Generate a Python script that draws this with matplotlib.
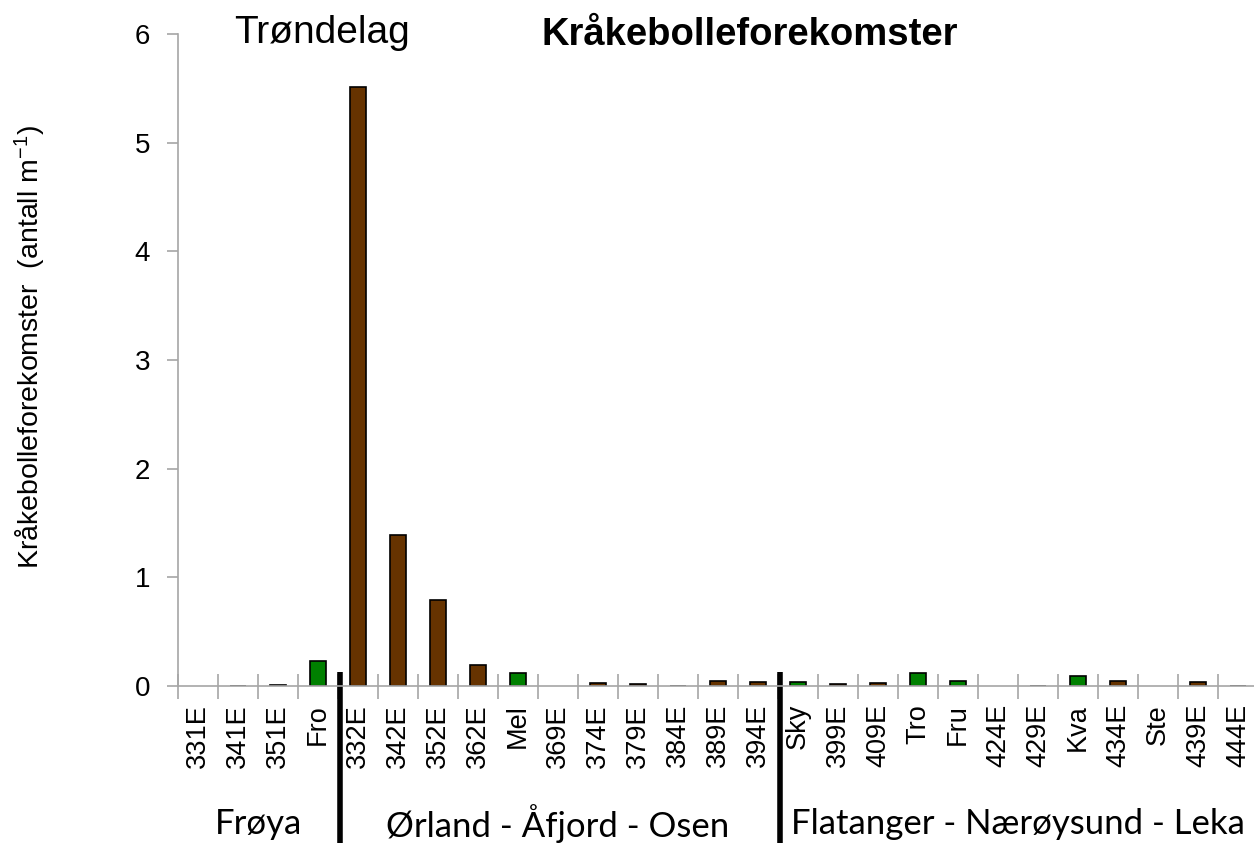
import matplotlib.pyplot as plt

sites = ["331E", "341E", "351E", "Fro",
         "332E", "342E", "352E", "362E", "Mel", "369E", "374E", "379E", "384E", "389E", "394E",
         "Sky", "399E", "409E", "Tro", "Fru", "424E", "429E", "Kva", "434E", "Ste", "439E", "444E"]
values = [0.0, 0.004, 0.01, 0.233,
          5.51, 1.39, 0.79, 0.19, 0.117, 0.0, 0.025, 0.015, 0.004, 0.045, 0.035,
          0.035, 0.015, 0.03, 0.12, 0.05, 0.0, 0.004, 0.095, 0.045, 0.0, 0.035, 0.004]
# green = reference stations, brown = survey stations
green_sites = ["Fro", "Mel", "Sky", "Tro", "Fru", "Kva", "Ste"]
groups = ["Frøya", "Ørland - Åfjord - Osen", "Flatanger - Nærøysund - Leka"]
group_sizes = [4, 11, 12]

brown = "#663300"
green = "#008000"
gray = "#a6a6a6"

plt.rcParams['font.family'] = ['Liberation Sans', 'DejaVu Sans']
plt.rcParams['mathtext.fontset'] = 'custom'
plt.rcParams['mathtext.rm'] = 'Liberation Sans'
plt.rcParams['mathtext.it'] = 'Liberation Sans'

fig = plt.figure(figsize=(12.54, 8.43), dpi=100)
ax = fig.add_axes([178 / 1254, 157 / 843, 1080 / 1254, 652 / 843])

x = list(range(len(sites)))
colors = [green if s in green_sites else brown for s in sites]
widths = [0 if v == 0 else 1.2 for v in values]
ax.bar(x, values, width=0.42, color=colors, edgecolor="black", linewidth=widths)

ax.set_xlim(-0.5, len(sites) - 0.5)
ax.set_ylim(0, 6)
ax.set_yticks(range(7))
ax.tick_params(axis="y", labelsize=20, color=gray, length=8, width=1.2, pad=12)

ax.set_xticks([i - 0.5 for i in range(len(sites) + 1)], minor=False)
ax.set_xticklabels([])
ax.set_xticks(x, minor=True)
ax.set_xticklabels(sites, minor=True, rotation=90, fontsize=19.5)
ax.tick_params(axis="x", which="major", direction="inout", length=18, width=1.2, color=gray)
ax.tick_params(axis="x", which="minor", length=0, pad=13)

for side in ["top", "right"]:
    ax.spines[side].set_visible(False)
for side in ["left", "bottom"]:
    ax.spines[side].set_color(gray)
    ax.spines[side].set_linewidth(1.2)

# dividers between the groups
start = 0
for n in group_sizes[:-1]:
    start += n
    ax.plot([start - 0.45, start - 0.45], [0.13, -1.5], color="black", linewidth=4,
            clip_on=False, solid_capstyle="butt")

trans = ax.get_xaxis_transform()
start = 0
for g, n in zip(groups, group_sizes):
    ax.text(start + (n - 1) / 2, -0.211, g, transform=trans, ha="center", va="center",
            fontsize=25, family="Lato")
    start += n

ax.set_ylabel("Kråkebolleforekomster  (antall m$^{\\mathregular{-1}}$)", fontsize=20.5)
ax.yaxis.set_label_coords(-0.12, 0.52)

fig.text(322 / 1254, 1 - 33 / 843, "Trøndelag", ha="center", va="center", fontsize=28)
fig.text(750 / 1254, 1 - 35 / 843, "Kråkebolleforekomster", ha="center", va="center",
         fontsize=27.5, fontweight="bold")

fig.savefig("out.png", dpi=100)
